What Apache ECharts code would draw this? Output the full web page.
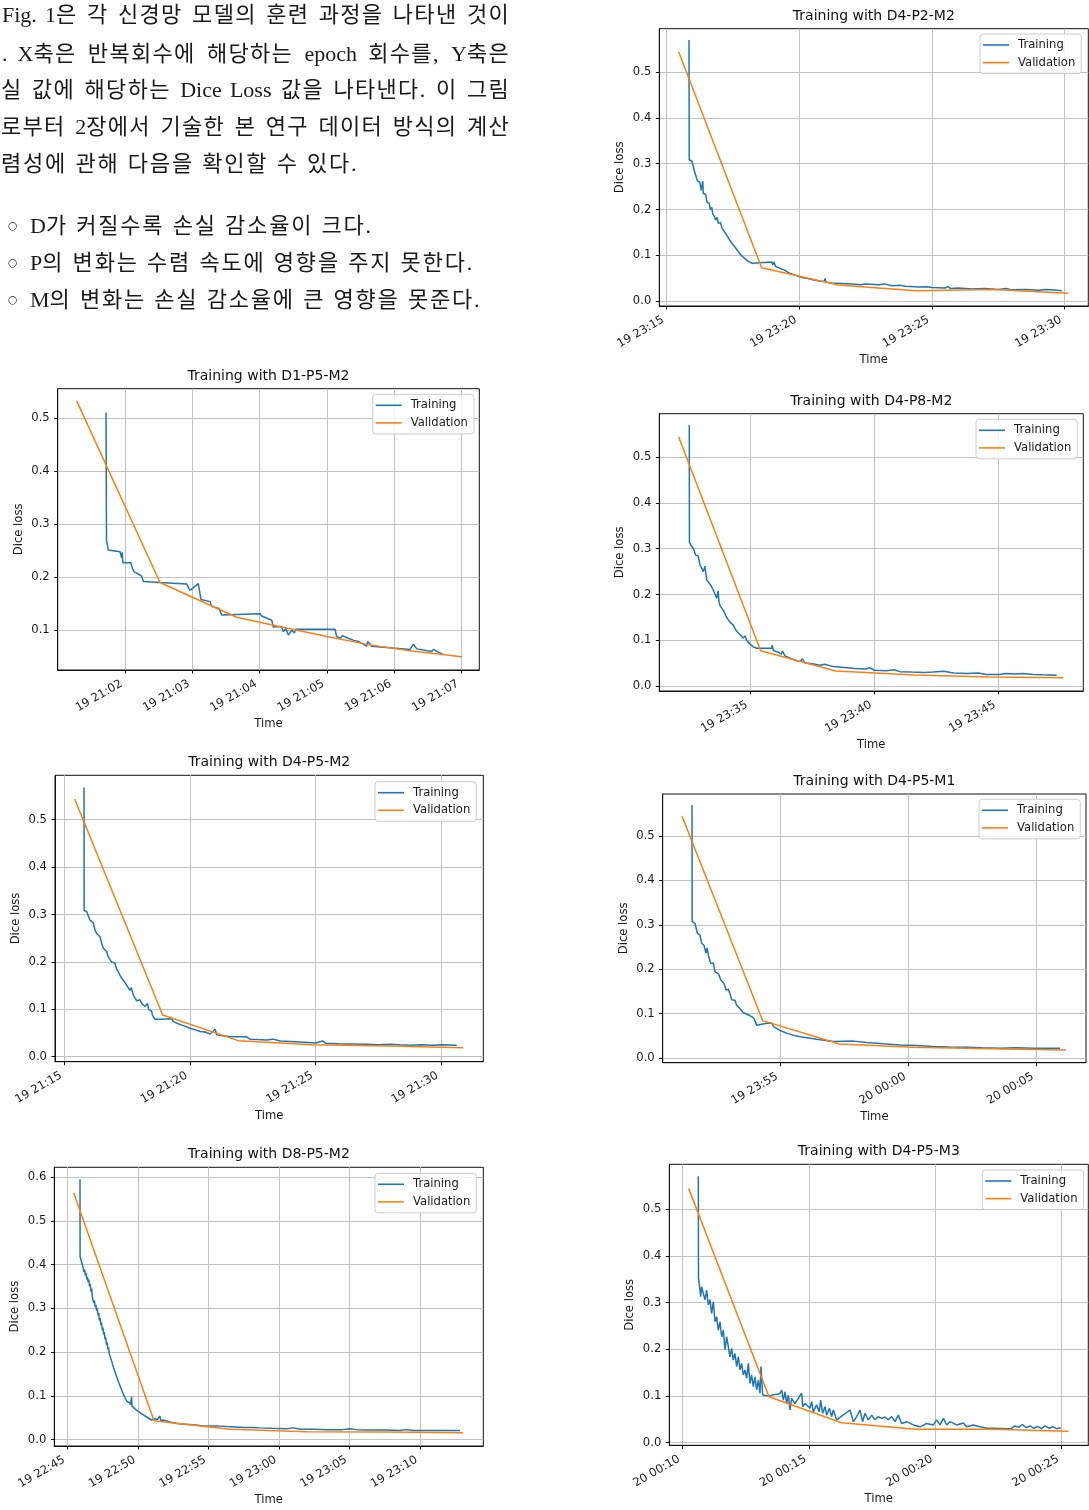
<!DOCTYPE html>
<html><head><meta charset="utf-8">
<script src="https://cdn.jsdelivr.net/npm/echarts@6/dist/echarts.min.js"></script>
<style>
html,body{margin:0;padding:0;background:#fff;}
#chart{position:absolute;left:0;top:0;width:1089px;height:1510px;}
.ln{position:absolute;height:30px;line-height:30px;font-family:"Liberation Serif","Noto Sans CJK KR",serif;font-size:22px;color:#1a1a1a;white-space:nowrap;letter-spacing:1.8px;word-spacing:1px;}
.j{text-align:justify;text-align-last:justify;letter-spacing:1.3px;word-spacing:0;}
.l{letter-spacing:0;}
.bul{position:absolute;left:8px;height:30px;line-height:30px;font-family:"DejaVu Sans",sans-serif;font-size:11px;color:#1a1a1a;}
</style></head><body>
<div id="chart"></div>
<div class="ln j" style="top:0px;left:2px;width:508px"><span class="l">Fig. 1</span>은 각 신경망 모델의 훈련 과정을 나타낸 것이</div>
<div class="ln j" style="top:39px;left:2px;width:508px"><span class="l">. X</span>축은 반복회수에 해당하는 <span class="l">epoch</span> 회수를, <span class="l">Y</span>축은</div>
<div class="ln j" style="top:75px;left:1px;width:509px">실 값에 해당하는 <span class="l">Dice Loss</span> 값을 나타낸다. 이 그림</div>
<div class="ln j" style="top:112px;left:1px;width:509px">로부터 <span class="l">2</span>장에서 기술한 본 연구 데이터 방식의 계산</div>
<div class="ln" style="top:149px;left:1px">렴성에 관해 다음을 확인할 수 있다.</div>
<div class="bul" style="top:211px">○</div><div class="ln" style="top:211px;left:30px"><span class="l">D</span>가 커질수록 손실 감소율이 크다.</div>
<div class="bul" style="top:248px">○</div><div class="ln" style="top:248px;left:30px"><span class="l">P</span>의 변화는 수렴 속도에 영향을 주지 못한다.</div>
<div class="bul" style="top:285px">○</div><div class="ln" style="top:285px;left:30px"><span class="l">M</span>의 변화는 손실 감소율에 큰 영향을 못준다.</div>
<script>
// time values are minutes after 00:00 of day 19
const titles = ['Training with D4-P2-M2','Training with D1-P5-M2','Training with D4-P8-M2','Training with D4-P5-M2','Training with D4-P5-M1','Training with D8-P5-M2','Training with D4-P5-M3'];
const seriesNames = ['Training','Validation'];

const ticksA = [1395,1400,1405,1410];
const ticksB = [1262,1263,1264,1265,1266,1267];
const ticksC = [1415,1420,1425];
const ticksD = [1275,1280,1285,1290];
const ticksE = [1435,1440,1445];
const ticksF = [1365,1370,1375,1380,1385,1390];
const ticksG = [1450,1455,1460,1465];
const yTicks05 = [0,0.1,0.2,0.3,0.4,0.5];
const yTicksB = [0.1,0.2,0.3,0.4,0.5];
const yTicks06 = [0,0.1,0.2,0.3,0.4,0.5,0.6];

const trainA = [[1395.84,0.570],[1395.85,0.308],[1395.95,0.306],[1396.00,0.305],[1396.05,0.283],[1396.12,0.281],[1396.16,0.262],[1396.25,0.260],[1396.30,0.242],[1396.36,0.262],[1396.38,0.235],[1396.47,0.233],[1396.52,0.216],[1396.60,0.214],[1396.65,0.200],[1396.70,0.205],[1396.74,0.190],[1396.80,0.185],[1396.84,0.177],[1396.90,0.183],[1396.95,0.170],[1397.03,0.172],[1397.08,0.160],[1397.15,0.162],[1397.22,0.148],[1397.28,0.152],[1397.33,0.138],[1397.40,0.140],[1397.45,0.127],[1397.52,0.131],[1397.58,0.118],[1397.64,0.121],[1397.70,0.108],[1397.76,0.112],[1397.82,0.100],[1397.88,0.104],[1397.95,0.093],[1398.02,0.095],[1398.08,0.087],[1398.15,0.090],[1398.22,0.083],[1398.28,0.086],[1398.96,0.086],[1399.00,0.080],[1399.05,0.086],[1399.10,0.076],[1399.20,0.074],[1399.25,0.077],[1399.35,0.070],[1399.45,0.068],[1399.55,0.064],[1399.65,0.061],[1399.80,0.058],[1399.95,0.055],[1400.10,0.052],[1400.30,0.050],[1400.50,0.047],[1400.70,0.045],[1400.95,0.043],[1400.97,0.050],[1401.00,0.042],[1401.20,0.040],[1401.60,0.039],[1402.00,0.038],[1402.30,0.036],[1402.50,0.038],[1403.00,0.036],[1403.20,0.038],[1403.50,0.034],[1403.80,0.035],[1404.00,0.033],[1404.50,0.031],[1404.80,0.032],[1405.00,0.030],[1405.50,0.029],[1405.60,0.032],[1405.70,0.028],[1406.00,0.029],[1406.50,0.027],[1407.00,0.028],[1407.50,0.026],[1407.80,0.028],[1408.00,0.025],[1408.50,0.026],[1409.00,0.024],[1409.30,0.026],[1409.50,0.025],[1409.90,0.023]];
const valA = [[1395.45,0.544],[1398.58,0.0733],[1401.47,0.0355],[1404.40,0.0231],[1407.32,0.026],[1410.14,0.0174]];

const trainB = [[1261.718,0.510],[1261.725,0.270],[1261.752,0.251],[1261.926,0.248],[1261.951,0.236],[1261.958,0.247],[1261.970,0.227],[1262.089,0.227],[1262.109,0.217],[1262.138,0.210],[1262.160,0.212],[1262.198,0.206],[1262.248,0.202],[1262.272,0.192],[1262.520,0.190],[1262.917,0.187],[1262.966,0.175],[1263.089,0.188],[1263.129,0.158],[1263.263,0.154],[1263.288,0.145],[1263.397,0.141],[1263.437,0.129],[1264.006,0.131],[1264.031,0.127],[1264.180,0.119],[1264.204,0.106],[1264.328,0.107],[1264.353,0.097],[1264.390,0.104],[1264.427,0.091],[1264.477,0.100],[1264.516,0.095],[1264.536,0.102],[1265.121,0.102],[1265.145,0.088],[1265.200,0.085],[1265.230,0.090],[1265.318,0.085],[1265.400,0.081],[1265.467,0.079],[1265.591,0.070],[1265.606,0.079],[1265.666,0.070],[1266.235,0.064],[1266.285,0.074],[1266.335,0.065],[1266.557,0.060],[1266.582,0.064],[1266.730,0.054]];
const valB = [[1261.282,0.532],[1262.520,0.190],[1263.660,0.1245],[1264.328,0.106],[1265.021,0.088],[1265.615,0.073],[1266.260,0.061],[1267.003,0.050]];

const trainC = [[1412.540,0.570],[1412.545,0.315],[1412.600,0.308],[1412.637,0.310],[1412.700,0.301],[1412.770,0.300],[1412.800,0.286],[1412.900,0.284],[1412.972,0.265],[1413.040,0.268],[1413.105,0.250],[1413.170,0.262],[1413.242,0.232],[1413.320,0.235],[1413.400,0.221],[1413.460,0.225],[1413.508,0.210],[1413.580,0.214],[1413.645,0.192],[1413.700,0.208],[1413.740,0.184],[1413.778,0.176],[1413.850,0.178],[1413.920,0.165],[1414.000,0.168],[1414.048,0.150],[1414.120,0.152],[1414.180,0.140],[1414.250,0.143],[1414.315,0.133],[1414.380,0.136],[1414.450,0.120],[1414.520,0.124],[1414.585,0.113],[1414.650,0.116],[1414.720,0.105],[1414.790,0.110],[1414.855,0.100],[1414.920,0.104],[1414.990,0.092],[1415.060,0.095],[1415.122,0.086],[1415.200,0.088],[1415.257,0.083],[1415.862,0.083],[1415.880,0.090],[1415.928,0.078],[1416.100,0.075],[1416.250,0.070],[1416.300,0.077],[1416.400,0.066],[1416.600,0.062],[1416.800,0.057],[1417.004,0.054],[1417.100,0.060],[1417.200,0.051],[1417.500,0.049],[1417.800,0.046],[1418.000,0.048],[1418.347,0.043],[1418.800,0.041],[1419.200,0.039],[1419.693,0.038],[1419.800,0.041],[1420.000,0.035],[1420.500,0.034],[1420.800,0.036],[1421.036,0.032],[1421.500,0.031],[1422.000,0.030],[1422.380,0.031],[1422.800,0.033],[1423.200,0.029],[1423.726,0.028],[1424.200,0.029],[1424.500,0.026],[1425.069,0.026],[1425.300,0.028],[1425.700,0.027],[1426.000,0.028],[1426.412,0.026],[1426.800,0.025],[1427.355,0.024]];
const valC = [[1412.113,0.5436],[1415.419,0.0777],[1418.456,0.0334],[1421.641,0.0246],[1424.637,0.0203],[1427.621,0.0188]];

const trainD = [[1275.770,0.568],[1275.775,0.309],[1275.880,0.306],[1275.942,0.308],[1276.009,0.288],[1276.080,0.285],[1276.142,0.282],[1276.200,0.268],[1276.275,0.260],[1276.340,0.262],[1276.407,0.253],[1276.470,0.240],[1276.540,0.229],[1276.600,0.232],[1276.673,0.222],[1276.740,0.210],[1276.806,0.208],[1276.870,0.200],[1277.006,0.197],[1277.060,0.186],[1277.138,0.179],[1277.200,0.172],[1277.270,0.166],[1277.338,0.162],[1277.420,0.155],[1277.480,0.150],[1277.537,0.151],[1277.600,0.140],[1277.650,0.146],[1277.736,0.130],[1277.800,0.124],[1277.870,0.118],[1278.002,0.120],[1278.080,0.112],[1278.150,0.110],[1278.200,0.106],[1278.268,0.106],[1278.300,0.112],[1278.350,0.100],[1278.400,0.104],[1278.468,0.096],[1278.500,0.087],[1278.550,0.089],[1278.600,0.079],[1278.800,0.079],[1279.265,0.080],[1279.300,0.076],[1279.331,0.074],[1279.500,0.070],[1279.700,0.066],[1279.863,0.063],[1280.000,0.060],[1280.200,0.057],[1280.395,0.053],[1280.600,0.052],[1280.800,0.048],[1281.000,0.058],[1281.059,0.046],[1281.300,0.044],[1281.500,0.043],[1281.724,0.042],[1282.256,0.042],[1282.389,0.037],[1282.700,0.036],[1283.053,0.035],[1283.300,0.037],[1283.600,0.033],[1284.000,0.032],[1284.382,0.031],[1284.700,0.030],[1285.000,0.029],[1285.300,0.033],[1285.400,0.028],[1285.711,0.028],[1286.000,0.027],[1286.500,0.027],[1287.040,0.026],[1287.500,0.025],[1288.000,0.026],[1288.370,0.025],[1288.800,0.024],[1289.200,0.025],[1289.698,0.024],[1290.000,0.025],[1290.629,0.024]];
const valD = [[1275.397,0.5436],[1278.906,0.0879],[1281.922,0.0338],[1284.848,0.0253],[1287.971,0.0225],[1290.894,0.019]];

const trainE = [[1431.530,0.570],[1431.535,0.307],[1431.600,0.305],[1431.647,0.303],[1431.738,0.281],[1431.843,0.277],[1431.908,0.258],[1431.999,0.254],[1432.077,0.236],[1432.120,0.248],[1432.169,0.232],[1432.260,0.213],[1432.364,0.214],[1432.430,0.194],[1432.500,0.197],[1432.560,0.190],[1432.651,0.176],[1432.782,0.168],[1432.860,0.153],[1432.950,0.155],[1433.016,0.145],[1433.082,0.131],[1433.150,0.133],[1433.212,0.130],[1433.277,0.119],[1433.408,0.111],[1433.538,0.102],[1433.700,0.098],[1433.864,0.093],[1433.955,0.089],[1434.060,0.074],[1434.451,0.078],[1434.647,0.079],[1434.712,0.071],[1434.800,0.068],[1434.973,0.062],[1435.234,0.056],[1435.500,0.051],[1435.755,0.048],[1436.100,0.045],[1436.407,0.042],[1436.700,0.040],[1437.059,0.037],[1437.842,0.038],[1438.363,0.035],[1439.000,0.032],[1439.668,0.029],[1440.300,0.028],[1440.971,0.026],[1441.600,0.025],[1442.276,0.024],[1442.900,0.023],[1443.580,0.022],[1444.200,0.023],[1444.884,0.022],[1445.927,0.022]];
const valE = [[1431.138,0.545],[1434.295,0.0841],[1437.293,0.0315],[1440.188,0.024],[1443.189,0.021],[1446.162,0.018]];

const trainF = [[1365.872,0.595],[1365.880,0.418],[1365.950,0.416],[1366.000,0.404],[1366.050,0.398],[1366.100,0.392],[1366.150,0.383],[1366.200,0.389],[1366.250,0.375],[1366.300,0.381],[1366.350,0.366],[1366.400,0.372],[1366.450,0.360],[1366.500,0.366],[1366.550,0.350],[1366.600,0.356],[1366.650,0.338],[1366.700,0.345],[1366.750,0.326],[1366.800,0.322],[1366.850,0.312],[1366.900,0.318],[1366.950,0.303],[1367.000,0.308],[1367.050,0.295],[1367.100,0.300],[1367.150,0.284],[1367.200,0.289],[1367.250,0.272],[1367.300,0.278],[1367.350,0.262],[1367.400,0.268],[1367.450,0.250],[1367.500,0.256],[1367.550,0.240],[1367.600,0.246],[1367.650,0.229],[1367.700,0.234],[1367.750,0.217],[1367.800,0.222],[1367.850,0.206],[1367.900,0.211],[1367.950,0.196],[1368.000,0.200],[1368.050,0.186],[1368.100,0.190],[1368.150,0.176],[1368.200,0.180],[1368.250,0.165],[1368.300,0.169],[1368.350,0.155],[1368.400,0.159],[1368.450,0.146],[1368.500,0.150],[1368.550,0.137],[1368.600,0.141],[1368.650,0.128],[1368.700,0.132],[1368.750,0.120],[1368.800,0.124],[1368.850,0.112],[1368.900,0.115],[1368.950,0.104],[1369.000,0.108],[1369.050,0.097],[1369.100,0.101],[1369.150,0.091],[1369.200,0.095],[1369.250,0.086],[1369.300,0.089],[1369.350,0.082],[1369.400,0.085],[1369.450,0.079],[1369.500,0.082],[1369.530,0.098],[1369.560,0.077],[1369.650,0.075],[1369.750,0.071],[1369.850,0.069],[1369.950,0.066],[1370.050,0.064],[1370.150,0.061],[1370.250,0.059],[1370.350,0.057],[1370.450,0.055],[1370.550,0.053],[1370.650,0.051],[1370.750,0.049],[1370.850,0.047],[1370.950,0.045],[1371.050,0.043],[1371.150,0.048],[1371.250,0.044],[1371.350,0.046],[1371.450,0.043],[1371.546,0.054],[1371.600,0.044],[1371.782,0.045],[1372.200,0.041],[1372.728,0.037],[1373.300,0.035],[1373.910,0.034],[1374.500,0.032],[1375.092,0.031],[1375.700,0.031],[1376.274,0.030],[1376.900,0.029],[1377.456,0.028],[1378.000,0.028],[1378.638,0.027],[1379.500,0.026],[1380.500,0.025],[1381.000,0.027],[1381.500,0.024],[1382.500,0.024],[1383.500,0.023],[1384.500,0.023],[1385.000,0.025],[1385.500,0.023],[1386.500,0.022],[1387.500,0.022],[1388.500,0.021],[1389.000,0.023],[1389.500,0.021],[1390.500,0.021],[1391.500,0.021],[1392.820,0.021]];
const valF = [[1365.423,0.5642],[1371.121,0.0434],[1376.511,0.0236],[1381.995,0.0183],[1387.504,0.0175],[1393.059,0.016]];

const trainG = [[1450.619,0.571],[1450.625,0.352],[1450.685,0.327],[1450.711,0.313],[1450.751,0.334],[1450.817,0.320],[1450.883,0.306],[1450.949,0.327],[1451.015,0.295],[1451.081,0.306],[1451.147,0.277],[1451.213,0.302],[1451.279,0.259],[1451.345,0.270],[1451.411,0.241],[1451.477,0.259],[1451.543,0.227],[1451.608,0.241],[1451.674,0.199],[1451.740,0.227],[1451.806,0.206],[1451.872,0.184],[1451.938,0.202],[1452.004,0.177],[1452.070,0.191],[1452.136,0.163],[1452.202,0.184],[1452.268,0.156],[1452.334,0.170],[1452.400,0.145],[1452.466,0.156],[1452.532,0.138],[1452.598,0.170],[1452.664,0.127],[1452.730,0.145],[1452.796,0.120],[1452.862,0.141],[1452.928,0.113],[1452.994,0.134],[1453.060,0.106],[1453.100,0.163],[1453.166,0.102],[1453.390,0.100],[1453.720,0.104],[1453.852,0.105],[1453.918,0.113],[1453.984,0.091],[1454.050,0.109],[1454.116,0.084],[1454.182,0.102],[1454.248,0.070],[1454.314,0.095],[1454.446,0.084],[1454.578,0.095],[1454.710,0.106],[1454.749,0.077],[1454.842,0.084],[1455.040,0.074],[1455.106,0.088],[1455.171,0.066],[1455.303,0.081],[1455.409,0.066],[1455.462,0.091],[1455.541,0.063],[1455.633,0.077],[1455.699,0.059],[1455.805,0.074],[1455.897,0.056],[1455.963,0.070],[1456.095,0.049],[1456.161,0.052],[1456.623,0.070],[1456.755,0.045],[1456.887,0.056],[1457.019,0.070],[1457.124,0.045],[1457.217,0.063],[1457.349,0.049],[1457.481,0.059],[1457.613,0.049],[1457.745,0.056],[1457.877,0.052],[1458.010,0.055],[1458.140,0.049],[1458.272,0.056],[1458.404,0.045],[1458.536,0.059],[1458.668,0.041],[1458.866,0.045],[1459.130,0.038],[1459.394,0.034],[1459.658,0.041],[1459.922,0.038],[1460.054,0.049],[1460.186,0.038],[1460.318,0.052],[1460.450,0.038],[1460.582,0.045],[1460.846,0.038],[1461.110,0.042],[1461.242,0.034],[1461.506,0.038],[1461.770,0.034],[1462.033,0.031],[1462.297,0.031],[1462.900,0.030],[1463.000,0.030],[1463.150,0.036],[1463.300,0.033],[1463.450,0.039],[1463.600,0.032],[1463.750,0.036],[1463.900,0.031],[1464.050,0.035],[1464.200,0.030],[1464.350,0.036],[1464.500,0.031],[1464.650,0.034],[1464.800,0.030],[1464.970,0.032]];
const valG = [[1450.236,0.5448],[1453.417,0.0985],[1456.293,0.0428],[1459.236,0.0286],[1462.297,0.0286],[1465.266,0.0243]];

// layout (pixels) and axis extents for each panel
const panels = [
  {train:trainA, val:valA, xt:ticksA, yt:yTicks05, grid:[659.3,28.7,429,277.3], xr:[1394.721,1410.899], yr:[-0.0102,0.5944], lg:[980,34]},
  {train:trainB, val:valB, xt:ticksB, yt:yTicksB, grid:[57.7,388.7,421.6,281.3], xr:[1261.0,1267.265], yr:[0.0252,0.555], lg:[372.7,394.3]},
  {train:trainC, val:valC, xt:ticksC, yt:yTicks05, grid:[659.3,413.7,424,277.3], xr:[1411.331,1428.428], yr:[-0.0102,0.5944], lg:[976,419.3]},
  {train:trainD, val:valD, xt:ticksD, yt:yTicks05, grid:[55,775.3,428.3,286.4], xr:[1274.613,1291.691], yr:[-0.0106,0.5937], lg:[375,781.7]},
  {train:trainE, val:valE, xt:ticksE, yt:yTicks05, grid:[662.7,794,423.3,268.7], xr:[1430.383,1446.945], yr:[-0.0106,0.5946], lg:[979,799.3]},
  {train:trainF, val:valF, xt:ticksF, yt:yTicks06, grid:[54.3,1167.3,429,278.7], xr:[1364.05,1394.475], yr:[-0.0144,0.6222], lg:[375,1173.3]},
  {train:trainG, val:valG, xt:ticksG, yt:yTicks05, grid:[669.3,1164.3,419,281], xr:[1449.47,1466.057], yr:[-0.0056,0.5964], lg:[982.3,1170]}
];

const FONT = '"DejaVu Sans", sans-serif';
const TXT = '#1a1a1a';
function fmtTime(v){
  const total = Math.round(v);
  const day = 19 + Math.floor(total/1440);
  const mins = total % 1440;
  const h = Math.floor(mins/60), m = mins % 60;
  return day + ' ' + String(h).padStart(2,'0') + ':' + String(m).padStart(2,'0');
}

const option = {animation:false, grid:[], xAxis:[], yAxis:[], series:[], legend:[], graphic:[]};
panels.forEach((p,i) => {
  const [gl,gt,gw,gh] = p.grid;
  option.grid.push({left:gl, top:gt, width:gw, height:gh, show:true, borderColor:'#111', borderWidth:1, containLabel:false, outerBoundsMode:'none'});
  option.xAxis.push({type:'value', gridIndex:i, min:p.xr[0], max:p.xr[1], position:'bottom',
    axisLine:{show:true, onZero:false, lineStyle:{color:'#111', width:1}},
    axisTick:{show:true, length:3.5, customValues:p.xt, lineStyle:{color:'#111', width:1}},
    axisLabel:{customValues:p.xt, formatter:fmtTime, rotate:30, margin:11, padding:[0,4,0,0], fontSize:11.6, fontFamily:FONT, color:TXT},
    splitLine:{show:true, lineStyle:{color:'#c2c2c2', width:1}},
    name:'Time', nameLocation:'middle', nameGap:48, nameTextStyle:{fontSize:11.6, fontFamily:FONT, color:TXT}});
  option.yAxis.push({type:'value', gridIndex:i, min:p.yr[0], max:p.yr[1],
    axisLine:{show:true, onZero:false, lineStyle:{color:'#111', width:1}},
    axisTick:{show:true, length:3.5, customValues:p.yt, lineStyle:{color:'#111', width:1}},
    axisLabel:{customValues:p.yt, formatter:v => v.toFixed(1), margin:8, fontSize:11.6, fontFamily:FONT, color:TXT},
    splitLine:{show:true, lineStyle:{color:'#c2c2c2', width:1}},
    name:'Dice loss', nameLocation:'middle', nameRotate:90, nameGap:33, nameTextStyle:{fontSize:11.6, fontFamily:FONT, color:TXT}});
  option.series.push({type:'line', name:seriesNames[0], xAxisIndex:i, yAxisIndex:i, data:p.train, symbol:'none', showSymbol:false, z:2,
    lineStyle:{color:'#1f77b4', width:1.5}, itemStyle:{color:'#1f77b4'}});
  option.series.push({type:'line', name:seriesNames[1], xAxisIndex:i, yAxisIndex:i, data:p.val, symbol:'none', showSymbol:false, z:3,
    lineStyle:{color:'#ff7f0e', width:1.5}, itemStyle:{color:'#ff7f0e'}});
  option.legend.push({show:true, data:seriesNames, orient:'vertical', left:p.lg[0], top:p.lg[1], icon:'rect', itemWidth:26, itemHeight:1.6, itemGap:3.6,
    padding:[4,6,4,3], borderColor:'#cccccc', borderWidth:1, borderRadius:3, backgroundColor:'rgba(255,255,255,0.8)', selectedMode:false,
    textStyle:{fontSize:11.6, fontFamily:FONT, color:TXT, lineHeight:14, padding:[0,0,0,4]}});
  option.graphic.push({type:'text', x:gl+gw/2, y:gt-12.7, z:10,
    style:{text:titles[i], fill:'#111', font:'14px "DejaVu Sans", sans-serif', align:'center', verticalAlign:'middle', textAlign:'center', textVerticalAlign:'middle'}});
});

const chart = echarts.init(document.getElementById('chart'), null, {renderer:'canvas'});
chart.setOption(option);
</script>
</body></html>
